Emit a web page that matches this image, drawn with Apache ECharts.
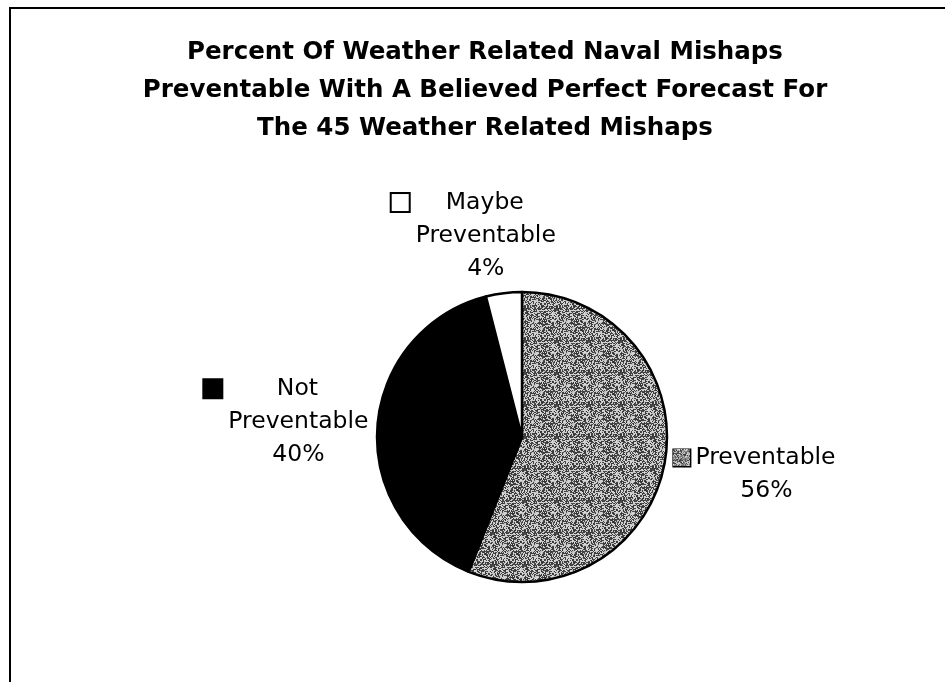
<!DOCTYPE html>
<html>
<head>
<meta charset="utf-8">
<script src="https://cdn.jsdelivr.net/npm/echarts@6/dist/echarts.min.js"></script>
<style>
  html, body { margin: 0; padding: 0; background: #fff; }
  #chart { width: 945px; height: 682px; }
</style>
</head>
<body>
<div id="chart"></div>
<script>
// Data: share of the 45 weather related mishaps, in percent
const categories = ['Preventable', 'Not Preventable', 'Maybe Preventable'];
const percents = [56, 40, 4];
// How each category name wraps inside its data label
const nameLines = [['Preventable'], ['Not', 'Preventable'], ['Maybe', 'Preventable']];
const titleLines = [
  'Percent Of Weather Related Naval Mishaps',
  'Preventable With A Believed Perfect Forecast For',
  'The 45 Weather Related Mishaps'
];

// Geometry and styling
const PIE_CENTER = [522, 437];
const PIE_RADIUS = 145;
const LABEL_GAP = 5;
// Fine placement of each data label block after the radial layout (px)
const LABEL_OFFSET = [[5, 4], [-3, -3], [-19, -8]];
const FONT = '"DejaVu Sans", sans-serif';

// Grainy grey stipple for the "Preventable" slice: a fixed hash of the
// pixel position picks dark or light grains on a 32x32 tile
function makeStipple() {
  const n = 32;
  const c = document.createElement('canvas');
  c.width = n; c.height = n;
  const ctx = c.getContext('2d');
  const img = ctx.createImageData(n, n);
  for (let y = 0; y < n; y++) {
    for (let x = 0; x < n; x++) {
      let h = (x * 374761393 + y * 668265263) | 0;
      h = Math.imul(h ^ (h >>> 13), 1274126177);
      h = (h ^ (h >>> 16)) >>> 0;
      const f = (h % 1000) / 1000;
      const v = f < 0.52 ? 0x30 + Math.round(f * 60) : 0xbc + Math.round((f - 0.52) * 70);
      const k = (y * n + x) * 4;
      img.data[k] = v; img.data[k + 1] = v; img.data[k + 2] = v; img.data[k + 3] = 255;
    }
  }
  ctx.putImageData(img, 0, 0);
  return c;
}
const stipple = makeStipple();
const fills = [
  { image: stipple, repeat: 'repeat' },
  '#000000',
  '#ffffff'
];

const total = percents.reduce((a, b) => a + b, 0);

function labelText(p) {
  const i = p.dataIndex;
  const lines = nameLines[i].concat([Math.round(p.percent) + '%']);
  return lines.map((line, j) =>
    j === 0 ? '{key' + i + '|}{gap|}{t|' + line + '}' : '{sp|}{gap|}{t|' + line + '}'
  ).join('\n');
}

const rich = {
  t: { fontFamily: FONT, fontSize: 23.5, color: '#000', lineHeight: 33, align: 'center' },
  gap: { width: 5, lineHeight: 33, align: 'left' },
  sp: { width: 19, lineHeight: 33, align: 'left' }
};
fills.forEach((f, i) => {
  rich['key' + i] = {
    width: 17, height: 17, lineHeight: 33, align: 'left',
    backgroundColor: f, borderColor: '#000', borderWidth: 2
  };
});

const chart = echarts.init(document.getElementById('chart'), null, { renderer: 'canvas' });
chart.setOption({
  backgroundColor: '#ffffff',
  animation: false,
  title: {
    text: titleLines.join('\n'),
    left: 480,
    top: 29,
    textAlign: 'center',
    textStyle: {
      fontFamily: FONT,
      fontSize: 24.5,
      fontWeight: 'bold',
      color: '#000',
      lineHeight: 38
    }
  },
  graphic: [{
    type: 'rect',
    shape: { x: 10, y: 8, width: 1000, height: 1000 },
    style: { fill: 'none', stroke: '#000', lineWidth: 2 },
    silent: true
  }],
  series: [{
    type: 'pie',
    center: PIE_CENTER,
    radius: PIE_RADIUS,
    startAngle: 90,
    clockwise: true,
    avoidLabelOverlap: false,
    data: categories.map((name, i) => ({
      name: name,
      value: percents[i],
      itemStyle: { color: fills[i] }
    })),
    itemStyle: { borderColor: '#000', borderWidth: 2.5 },
    label: {
      show: true,
      position: 'outside',
      formatter: labelText,
      rich: rich
    },
    labelLine: { show: false },
    labelLayout: function (params) {
      const i = params.dataIndex;
      let before = 0;
      for (let k = 0; k < i; k++) before += percents[k];
      const mid = (before + percents[i] / 2) / total * Math.PI * 2;
      const dx = Math.sin(mid);
      const dy = -Math.cos(mid);
      const w = params.labelRect.width;
      const h = params.labelRect.height;
      const ax = PIE_CENTER[0] + dx * (PIE_RADIUS + LABEL_GAP);
      const ay = PIE_CENTER[1] + dy * (PIE_RADIUS + LABEL_GAP);
      return {
        x: ax + dx * w / 2 + LABEL_OFFSET[i][0],
        y: ay + dy * h / 2 + LABEL_OFFSET[i][1],
        align: 'center',
        verticalAlign: 'middle'
      };
    },
    emphasis: { disabled: true }
  }]
});
</script>
</body>
</html>
